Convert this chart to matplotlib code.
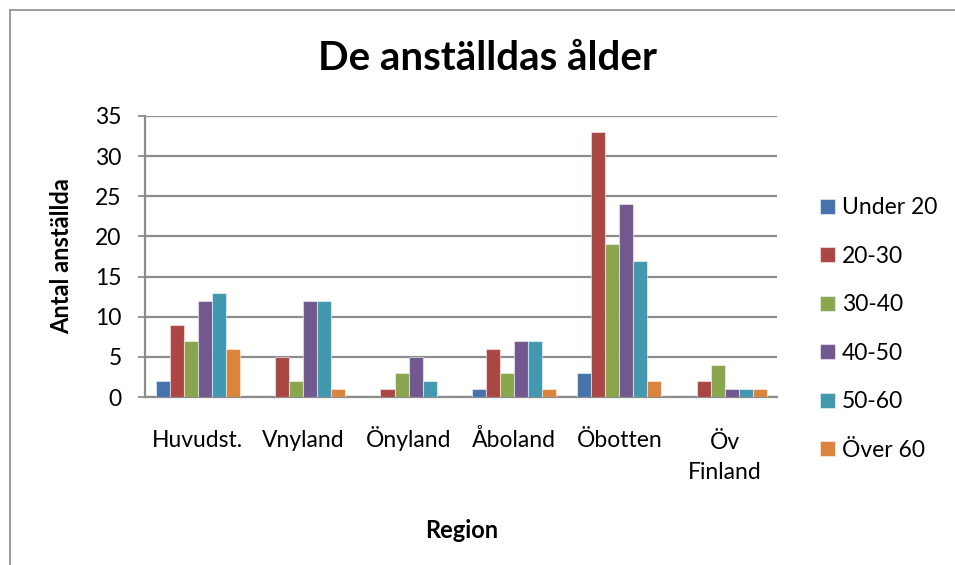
import matplotlib.pyplot as plt
from matplotlib.lines import Line2D
from matplotlib.transforms import ScaledTranslation
import numpy as np

plt.rcParams['font.family'] = ['Lato', 'DejaVu Sans']

# data
regioner = ['Huvudst.', 'Vnyland', 'Önyland', 'Åboland', 'Öbotten', 'Öv\nFinland']
grupper = ['Under 20', '20-30', '30-40', '40-50', '50-60', 'Över 60']
under20 = [2, 0, 0, 1, 3, 0]
g20_30 = [9, 5, 1, 6, 33, 2]
g30_40 = [7, 2, 3, 3, 19, 4]
g40_50 = [12, 12, 5, 7, 24, 1]
g50_60 = [13, 12, 2, 7, 17, 1]
over60 = [6, 1, 0, 1, 2, 1]
serier = [under20, g20_30, g30_40, g40_50, g50_60, over60]
farger = ['#4673AA', '#AA4644', '#89A54E', '#71588F', '#4198AF', '#DB843D']

fig = plt.figure(figsize=(9.55, 5.65), dpi=100)
ax = fig.add_axes([0.152, 0.297, 0.662, 0.498])

x = np.arange(len(regioner))
n = len(serier)
w = 1.0 / (n + 1.5)
for i, (vals, c) in enumerate(zip(serier, farger)):
    pos = x - n * w / 2 + (i + 0.5) * w
    ax.bar(pos, vals, width=w, color=c, edgecolor=(1, 1, 1, 0.5), linewidth=0.8,
           label=grupper[i], zorder=3)

ax.set_xlim(-0.5, len(regioner) - 0.5)
ax.set_ylim(0, 35)
ax.set_yticks(range(0, 36, 5))
ax.yaxis.grid(True, color='#8c8c8c', linewidth=1.6, zorder=0)
ax.set_axisbelow(True)
for s in ['top', 'right']:
    ax.spines[s].set_visible(False)
for s in ['left', 'bottom']:
    ax.spines[s].set_color('#8c8c8c')
    ax.spines[s].set_linewidth(1.6)
ax.tick_params(axis='y', length=5, width=1.3, color='#8c8c8c', pad=12, labelsize=16.5)
ax.tick_params(axis='x', length=0, pad=36, labelsize=16.5)
ax.set_xticks(x)
ax.set_xticklabels(regioner, linespacing=1.55, va='baseline')
# baseline = sista raden vid flera rader, flytta ned en rad
for lab in ax.get_xticklabels():
    rader = lab.get_text().count('\n')
    if rader:
        lab.set_transform(lab.get_transform() +
                          ScaledTranslation(0, -0.32 * rader, fig.dpi_scale_trans))

ax.set_ylabel('Antal anställda', fontsize=17, fontweight='bold', labelpad=16)
ax.set_xlabel('Region', fontsize=17, fontweight='bold', labelpad=26)

fig.text(0.51, 1 - 58 / 565, 'De anställdas ålder', fontsize=29, fontweight='bold',
         ha='center', va='center')

leg = ax.legend(loc='center left', bbox_to_anchor=(1.068, 0.242), frameon=False,
                fontsize=16.5, handlelength=0.65, handleheight=0.65,
                handletextpad=0.3, labelspacing=1.2, borderaxespad=0, borderpad=0)

# yttre ram
fig.add_artist(Line2D([9.5 / 955, 9.5 / 955], [0, 1 - 10 / 565], color='#8c8c8c', lw=1.2))
fig.add_artist(Line2D([9.5 / 955, 1], [1 - 10 / 565, 1 - 10 / 565], color='#8c8c8c', lw=1.2))

fig.savefig('out.png', dpi=100)
